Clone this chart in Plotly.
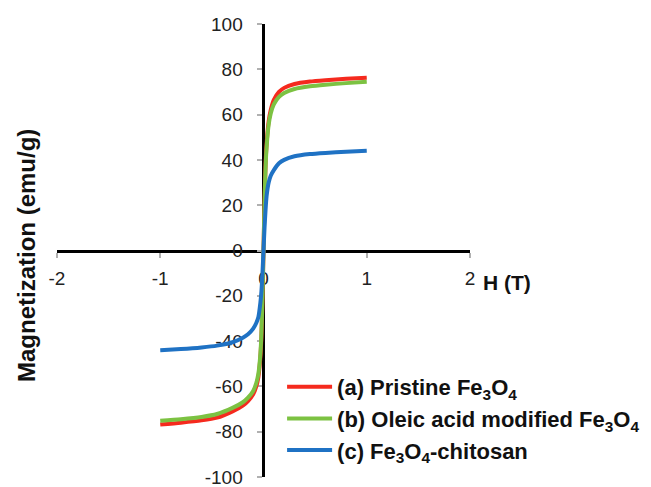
import plotly.graph_objects as go

# Field H (T)
H = [-1, -0.8, -0.6, -0.45, -0.3, -0.2, -0.15, -0.1, -0.07, -0.05, -0.03, -0.02, -0.01,
     0, 0.01, 0.02, 0.03, 0.05, 0.07, 0.1, 0.15, 0.2, 0.3, 0.45, 0.6, 0.8, 1]

pristine = [-76.8, -76, -75, -73.8, -71, -68.5, -66.5, -63.5, -60, -56, -47, -38, -22,
            0, 22, 38, 47, 57, 62, 66.5, 70, 71.8, 73.5, 74.6, 75.2, 75.8, 76.3]
oleic = [-75.2, -74.5, -73.5, -72.2, -69.5, -67, -65, -62, -58.5, -54.5, -45.5, -36.5, -21,
         0, 21, 36.5, 45.5, 55.5, 60.5, 64.5, 67.8, 69.5, 71.3, 72.5, 73.2, 73.9, 74.5]
chitosan = [-44, -43.5, -42.8, -42, -40.5, -38.5, -37, -34.5, -32, -29.5, -23, -18, -10,
            0, 10, 18, 24, 30, 33, 35.5, 38.5, 40, 41.6, 42.6, 43.1, 43.6, 44]

names = ["(a) Pristine Fe<sub>3</sub>O<sub>4</sub>",
         "(b) Oleic acid modified Fe<sub>3</sub>O<sub>4</sub>",
         "(c) Fe<sub>3</sub>O<sub>4</sub>-chitosan"]
colors = ["#f52a1e", "#7cc242", "#1f72c4"]

x_ticks = [-2, -1, 0, 1, 2]
y_ticks = [-100, -80, -60, -40, -20, 0, 20, 40, 60, 80, 100]

fig = go.Figure()
for name, ys, c in zip(names, [pristine, oleic, chitosan], colors):
    fig.add_trace(go.Scatter(x=H, y=ys, mode="lines", name="<b>" + name + "</b>",
                             line=dict(color=c, width=4, shape="spline", smoothing=0.6)))

FONT = "Liberation Sans, Arial, sans-serif"
ML, MR, MT, MB = 57, 181, 24, 10
fig.update_layout(
    width=651, height=487,
    margin=dict(l=ML, r=MR, t=MT, b=MB, autoexpand=False),
    paper_bgcolor="white", plot_bgcolor="white",
    font=dict(family=FONT, color="#222"),
    showlegend=True,
    legend=dict(x=0.545, y=0.245, xanchor="left", yanchor="top",
                font=dict(size=22, color="#111", family=FONT),
                bgcolor="rgba(0,0,0,0)", itemwidth=45, tracegroupgap=0),
    xaxis=dict(range=[-2, 2], tickvals=x_ticks, ticktext=[str(v) for v in x_ticks],
               anchor="free", position=0.5, showline=True, linecolor="black", linewidth=3,
               ticks="outside", ticklen=5, tickcolor="#b0b0b0", tickwidth=1.5,
               showgrid=False, zeroline=False, layer="below traces",
               tickfont=dict(size=19, color="#222"), ticklabelstandoff=5,
               ticklabeloverflow="allow", automargin=False),
    yaxis=dict(range=[-100, 100], tickvals=y_ticks, ticktext=[str(v) for v in y_ticks],
               anchor="free", position=0.4976, showline=True, linecolor="black", linewidth=3,
               ticks="outside", ticklen=5, tickcolor="#b0b0b0", tickwidth=1.5,
               showgrid=False, zeroline=False, layer="below traces",
               tickfont=dict(size=19, color="#222"), ticklabelstandoff=10,
               ticklabeloverflow="allow", automargin=False),
    annotations=[
        dict(text="<b>Magnetization (emu/g)</b>", x=27, y=256, xref="paper", yref="paper",
             showarrow=False, textangle=-90, font=dict(size=24, color="#111", family=FONT)),
        dict(text="<b>H (T)</b>", x=507, y=282, xref="paper", yref="paper",
             showarrow=False, font=dict(size=21, color="#111", family=FONT)),
    ],
)

# convert pixel-placed annotation positions to paper fractions
pw, ph = 651 - ML - MR, 487 - MT - MB
for a in fig.layout.annotations:
    a.x = (a.x - ML) / pw
    a.y = (487 - MB - a.y) / ph
    a.xanchor = "center"
    a.yanchor = "middle"

fig.write_html("out.html", config={"displayModeBar": False},
               post_script="document.body.style.margin='0';")
